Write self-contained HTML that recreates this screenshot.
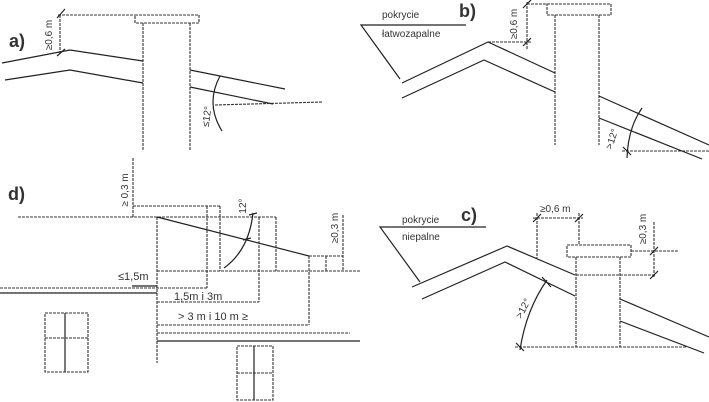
<!DOCTYPE html>
<html><head><meta charset="utf-8"><style>
html,body{margin:0;padding:0;background:#fff;}
svg{display:block;}
text{font-family:"Liberation Sans",Arial,sans-serif;fill:#333;}
.s{stroke:#222;stroke-width:1.2;fill:none;}
.d{stroke:#333;stroke-width:1.1;fill:none;stroke-dasharray:3 1;}
.b{font-weight:bold;font-size:18px;}
.t{font-size:10px;}
.u{font-size:11px;}
</style></head><body>
<svg width="709" height="402" viewBox="0 0 709 402" xmlns="http://www.w3.org/2000/svg">
<rect width="709" height="402" fill="#fff"/>

<!-- ===== a) ===== -->
<text x="9" y="47" class="b">a)</text>
<line class="d" x1="60" y1="15" x2="60" y2="53"/>
<line class="d" x1="58" y1="15" x2="135" y2="15"/>
<line class="s" x1="57" y1="18" x2="65" y2="9"/>
<line class="s" x1="57" y1="56" x2="65" y2="49"/>
<text class="t" transform="translate(52,35) rotate(-90)" text-anchor="middle">≥0,6 m</text>
<rect class="d" x="135" y="15" width="64" height="8"/>
<line class="d" x1="143" y1="23" x2="143" y2="151"/>
<line class="d" x1="190" y1="23" x2="190" y2="150"/>
<polyline class="s" points="2,63 70,50 143,61"/>
<polyline class="s" points="5,80 70,70 143,83"/>
<line class="s" x1="190" y1="70" x2="285" y2="89"/>
<line class="s" x1="190" y1="87" x2="273" y2="104"/>
<line class="d" x1="215" y1="105" x2="323" y2="102"/>
<path class="s" d="M220,76 Q205,104 222,131"/>
<text class="t" transform="translate(210,117) rotate(-82)" text-anchor="middle">≤12°</text>

<!-- ===== b) ===== -->
<text x="382" y="18" class="t">pokrycie</text>
<text x="382" y="37" class="t">łatwozapalne</text>
<polyline class="s" points="466,25 361,25 400,79"/>
<text x="459" y="17" class="b">b)</text>
<line class="d" x1="527" y1="2" x2="527" y2="50"/>
<line class="d" x1="527" y1="4" x2="547" y2="4"/>
<line class="d" x1="488" y1="42" x2="531" y2="42"/>
<line class="s" x1="523" y1="8" x2="531" y2="0"/>
<line class="s" x1="523" y1="46" x2="531" y2="38"/>
<text class="t" transform="translate(517,24) rotate(-90)" text-anchor="middle">≥0,6 m</text>
<rect class="d" x="547" y="4" width="64" height="11"/>
<line class="d" x1="555" y1="15" x2="555" y2="145"/>
<line class="d" x1="599" y1="15" x2="599" y2="145"/>
<polyline class="s" points="402,83 488,42 555,73"/>
<polyline class="s" points="402,98 484,60 555,92"/>
<line class="s" x1="599" y1="96" x2="709" y2="145"/>
<line class="s" x1="599" y1="118" x2="702" y2="159"/>
<line class="d" x1="622" y1="151" x2="709" y2="151"/>
<path class="s" d="M642,108 Q628,128 627,158"/>
<line class="s" x1="623" y1="147" x2="631" y2="155"/>
<text class="t" transform="translate(615,140) rotate(-72)" text-anchor="middle">&gt;12°</text>

<!-- ===== d) ===== -->
<text x="8" y="200" class="b">d)</text>
<line class="d" x1="133" y1="158" x2="133" y2="217"/>
<text class="t" transform="translate(128,190) rotate(-90)" text-anchor="middle">≥ 0,3 m</text>
<line class="d" x1="133" y1="206" x2="220" y2="206"/>
<line class="d" x1="207" y1="206" x2="207" y2="288"/>
<line class="d" x1="220" y1="206" x2="220" y2="271"/>
<line class="d" x1="18" y1="217" x2="276" y2="217"/>
<line class="d" x1="157" y1="217" x2="157" y2="363"/>
<line class="s" x1="157" y1="217" x2="309" y2="256"/>
<line class="d" x1="259" y1="217" x2="259" y2="302"/>
<line class="d" x1="276" y1="217" x2="276" y2="271"/>
<line class="d" x1="157" y1="271" x2="360" y2="271"/>
<line class="d" x1="309" y1="256" x2="343" y2="256"/>
<line class="d" x1="309" y1="256" x2="309" y2="325"/>
<line class="d" x1="326" y1="256" x2="326" y2="271"/>
<line class="d" x1="343" y1="215" x2="343" y2="271"/>
<text class="t" transform="translate(338,228) rotate(-90)" text-anchor="middle">≥0,3 m</text>
<path class="s" d="M253,213 Q249,250 224,268"/>
<line class="s" x1="249" y1="215" x2="257" y2="213"/>
<line class="s" x1="243" y1="240" x2="251" y2="238"/>
<text class="t" transform="translate(246,206) rotate(-90)" text-anchor="middle">12°</text>
<text x="118" y="280" class="u">≤1,5m</text>
<line class="s" x1="132" y1="286" x2="157" y2="286"/>
<line class="d" x1="0" y1="288" x2="207" y2="288"/>
<line class="s" x1="0" y1="293" x2="157" y2="293"/>
<text x="174" y="300" class="u">1,5m i 3m</text>
<line class="d" x1="157" y1="302" x2="259" y2="302"/>
<text x="178" y="320" class="u">&gt; 3 m i 10 m  ≥</text>
<line class="d" x1="157" y1="325" x2="309" y2="325"/>
<line class="d" x1="157" y1="333" x2="350" y2="333"/>
<line class="s" x1="157" y1="341" x2="360" y2="341"/>
<rect class="d" x="45" y="313" width="43" height="59"/>
<line class="s" x1="65" y1="313" x2="65" y2="372"/>
<line class="d" x1="45" y1="338" x2="88" y2="338"/>
<rect class="d" x="237" y="346" width="36" height="54"/>
<line class="s" x1="254" y1="346" x2="254" y2="400"/>
<line class="d" x1="237" y1="373" x2="273" y2="373"/>

<!-- ===== c) ===== -->
<text x="402" y="223" class="t">pokrycie</text>
<text x="402" y="240" class="t">niepalne</text>
<polyline class="s" points="486,227 380,227 420,282"/>
<text x="461" y="221" class="b">c)</text>
<polyline class="s" points="412,287 507,246 575,275"/>
<polyline class="s" points="422,299 505,262 575,296"/>
<line class="d" x1="537" y1="213" x2="537" y2="258"/>
<line class="d" x1="579" y1="213" x2="579" y2="245"/>
<line class="d" x1="533" y1="218" x2="583" y2="218"/>
<line class="s" x1="533" y1="222" x2="541" y2="214"/>
<line class="s" x1="575" y1="222" x2="583" y2="214"/>
<text x="540" y="212" class="t">≥0,6 m</text>
<rect class="d" x="567" y="245" width="64" height="12"/>
<line class="d" x1="576" y1="257" x2="576" y2="347"/>
<line class="d" x1="620" y1="257" x2="620" y2="347"/>
<line class="d" x1="576" y1="275" x2="656" y2="275"/>
<line class="d" x1="654" y1="222" x2="654" y2="278"/>
<line class="d" x1="631" y1="251" x2="678" y2="251"/>
<line class="s" x1="650" y1="255" x2="658" y2="247"/>
<line class="s" x1="650" y1="279" x2="658" y2="271"/>
<text class="t" transform="translate(646,229) rotate(-90)" text-anchor="middle">≥0,3 m</text>
<line class="s" x1="620" y1="299" x2="709" y2="337"/>
<line class="s" x1="620" y1="321" x2="704" y2="353"/>
<line class="d" x1="515" y1="347" x2="686" y2="347"/>
<path class="s" d="M547,280 Q526,310 520,350"/>
<line class="s" x1="542" y1="277" x2="551" y2="287"/>
<line class="s" x1="516" y1="343" x2="524" y2="351"/>
<text class="t" transform="translate(526,310) rotate(-62)" text-anchor="middle">&gt;12°</text>
</svg>
</body></html>
